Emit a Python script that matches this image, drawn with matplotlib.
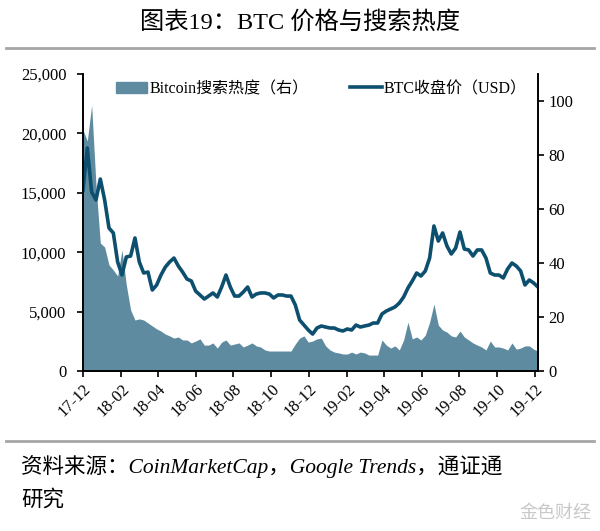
import numpy as np
import pandas as pd
import matplotlib
matplotlib.use("Agg")
import matplotlib.pyplot as plt
import matplotlib.dates as mdates
from matplotlib.ticker import FuncFormatter, MultipleLocator
from matplotlib.patches import Patch
from matplotlib.lines import Line2D

plt.rcParams['font.family'] = ['Liberation Serif', 'Noto Sans CJK SC']

# weekly series, Dec 2017 - Dec 2019
dates = pd.date_range("2017-12-01", periods=106, freq="7D")

btc_close = [
    15240, 18770, 15070, 14400, 16160, 14400, 12040, 11620, 9180, 8080,
    9600, 9680, 11200, 9180, 8250, 8330, 6820, 7240, 8080, 8750,
    9180, 9510, 8840, 8330, 7740, 7580, 6730, 6400, 6060, 6310,
    6570, 6230, 7070, 8080, 7070, 6310, 6310, 6650, 7070, 6230,
    6480, 6570, 6570, 6480, 6150, 6400, 6400, 6310, 6310, 5560,
    4290, 3870, 3450, 3110, 3620, 3790, 3700, 3620, 3620, 3450,
    3370, 3540, 3450, 3870, 3700, 3790, 3870, 4040, 4040, 4800,
    5050, 5220, 5390, 5720, 6230, 6990, 7580, 8250, 8000, 8420,
    9510, 12210, 10940, 11620, 10520, 9850, 10350, 11700, 10270, 10190,
    9680, 10190, 10190, 9510, 8250, 8080, 8080, 7830, 8590, 9090,
    8840, 8420, 7240, 7660, 7410, 7070,
]

search_heat = [
    89.3, 85.2, 98.5, 68.9, 47.4, 45.9, 39.3, 37.4, 35.2, 44.8,
    31.9, 22.6, 18.9, 19.3, 18.9, 17.8, 16.7, 15.6, 14.8, 13.7,
    13.0, 12.2, 12.6, 11.5, 11.5, 10.4, 11.1, 11.9, 9.6, 9.6,
    10.4, 8.5, 10.7, 11.5, 9.6, 10.0, 10.4, 8.9, 9.6, 10.4,
    9.3, 8.9, 7.8, 7.4, 7.4, 7.4, 7.4, 7.4, 7.4, 10.0,
    12.2, 13.0, 10.7, 11.1, 11.9, 12.2, 9.3, 7.8, 7.0, 6.7,
    6.3, 6.3, 7.0, 6.3, 7.0, 6.7, 5.9, 5.9, 5.9, 11.5,
    9.6, 8.5, 9.3, 7.8, 11.5, 18.1, 11.9, 12.6, 11.5, 13.3,
    18.1, 24.8, 17.0, 15.2, 14.4, 13.0, 12.6, 14.8, 12.6, 11.5,
    10.4, 9.6, 8.9, 7.8, 11.1, 8.9, 8.9, 8.5, 7.8, 10.4,
    8.1, 8.5, 9.3, 9.3, 8.1, 7.4,
]

title = "图表19：BTC 价格与搜索热度"
source = "资料来源：CoinMarketCap，Google Trends，通证通"
source2 = "研究"

fill_color = "#5f8ba0"
line_color = "#0d4f6e"

fig = plt.figure(figsize=(6, 5.31), dpi=100)
ax = fig.add_axes([0.1383, 0.3013, 0.7583, 0.5593])
ax2 = ax.twinx()

ax2.fill_between(dates, search_heat, 0, color=fill_color, linewidth=0)
ax.plot(dates, btc_close, color=line_color, linewidth=2.6)

ax.set_zorder(ax2.get_zorder() + 1)
ax.patch.set_visible(False)

ax.set_xlim(dates[0], dates[-1])
ax.set_ylim(0, 25000)
ax2.set_ylim(0, 110)
ax.yaxis.set_major_locator(MultipleLocator(5000))
ax.yaxis.set_major_formatter(FuncFormatter(lambda v, p: f"{int(v):,}"))
ax2.set_yticks([0, 20, 40, 60, 80, 100])

ax.xaxis.set_major_locator(mdates.MonthLocator(bymonth=[2, 4, 6, 8, 10, 12]))
ax.xaxis.set_major_formatter(mdates.DateFormatter("%y-%m"))
for lab in ax.get_xticklabels():
    lab.set_rotation(45)
    lab.set_ha("right")
    lab.set_rotation_mode("anchor")

for a in (ax, ax2):
    a.spines["top"].set_visible(False)
    for s in ("left", "right", "bottom"):
        a.spines[s].set_linewidth(1.2)
        a.spines[s].set_color("black")
    a.tick_params(labelsize=12, width=1.2, length=4, colors="black")
ax.tick_params(axis="y", pad=8)

handles = [Patch(color=fill_color, label="Bitcoin搜索热度（右）"),
           Line2D([0], [0], color=line_color, lw=2.6, label="BTC收盘价（USD）")]
ax.legend(handles=handles, loc="upper left", bbox_to_anchor=(0.04, 1.025), ncol=2,
          frameon=False, fontsize=11.5, handlelength=2.0, handletextpad=0.1,
          columnspacing=2.6)

fig.text(0.5, 1 - 22 / 531, title, ha="center", va="center", fontsize=17.5)
fig.add_artist(Line2D([0.01, 0.99], [1 - 48 / 531] * 2, color="#a6a6a6", lw=2))
fig.add_artist(Line2D([0.01, 0.99], [1 - 441 / 531] * 2, color="#a6a6a6", lw=2))
fig.text(0.035, 1 - 467 / 531, source, ha="left", va="center", fontsize=15.5,
         style="italic")
fig.text(0.035, 1 - 500 / 531, source2, ha="left", va="center", fontsize=15.5,
         style="italic")
fig.text(0.985, 1 - 513 / 531, "金色财经", ha="right", va="center", fontsize=13,
         color="#c8c8c8")

fig.savefig("out.png", dpi=100)
